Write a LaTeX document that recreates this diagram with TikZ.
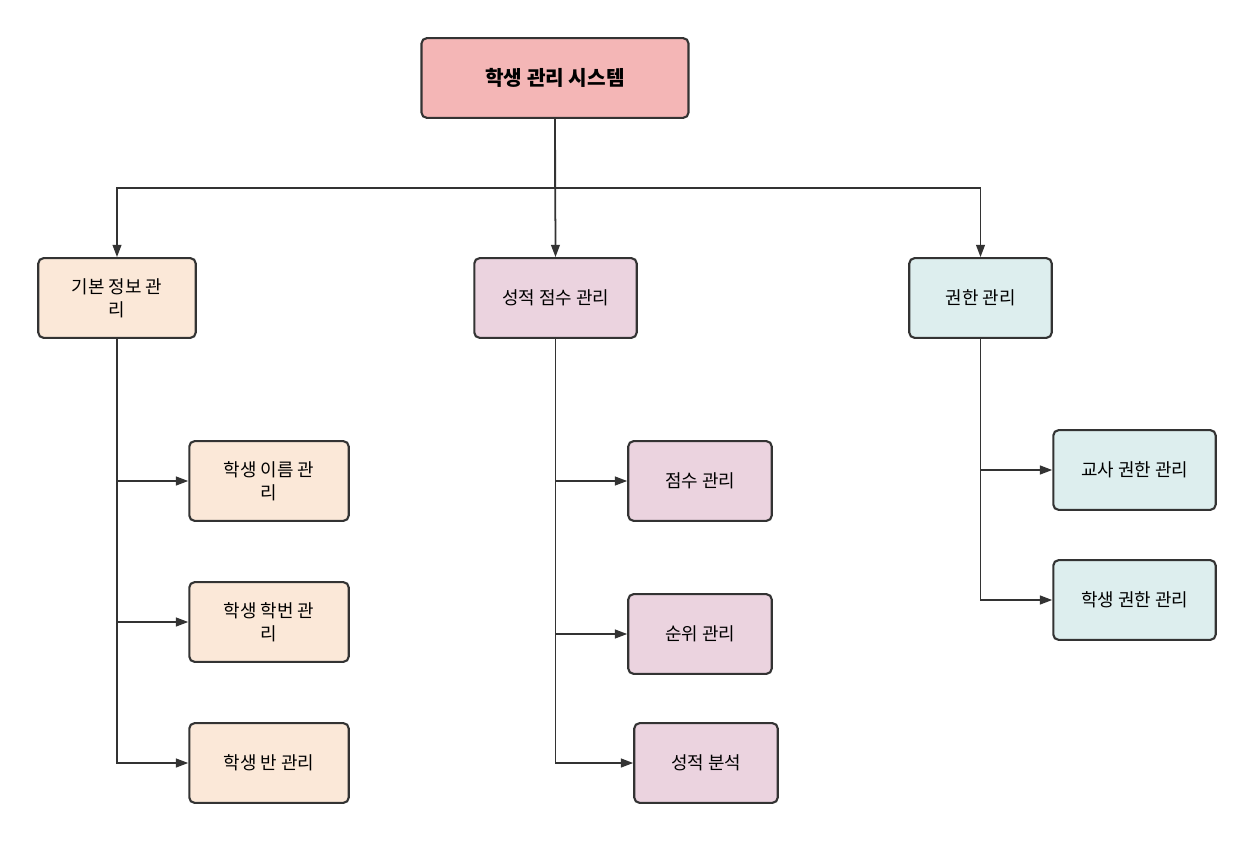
\documentclass[tikz,border=0pt]{standalone}
\usepackage{fontspec}
\setmainfont{Noto Sans CJK KR}
\usetikzlibrary{arrows.meta}
\definecolor{topc}{HTML}{F4B6B6}
\definecolor{lc}{HTML}{FBE8D8}
\definecolor{mc}{HTML}{EBD3DF}
\definecolor{rc}{HTML}{DDEEEE}
\definecolor{ln}{HTML}{333333}
\begin{document}
\begin{tikzpicture}[x=0.02cm,y=-0.02cm,
 box/.style={draw=ln,line width=1.2pt,rounded corners=3pt,align=center,font=\fontsize{10.2}{13}\selectfont,inner sep=0pt},
 conn/.style={draw=ln,line width=1pt,-{Triangle[length=7pt,width=5pt]}}]
\useasboundingbox (0,0) rectangle (1253,841);
\node[box,fill=topc,minimum width=268*0.567pt,minimum height=80*0.567pt,font=\bfseries\fontsize{11.5}{14}\selectfont] (top) at (555,78) {학생 관리 시스템};
\node[box,fill=lc,minimum width=158*0.567pt,minimum height=80*0.567pt] (a) at (117,298) {기본 정보 관\\리};
\node[box,fill=mc,minimum width=163*0.567pt,minimum height=80*0.567pt] (b) at (555.5,298) {성적 점수 관리};
\node[box,fill=rc,minimum width=143*0.567pt,minimum height=80*0.567pt] (c) at (980.5,298) {권한 관리};
\node[box,fill=lc,minimum width=160*0.567pt,minimum height=80*0.567pt] (a1) at (269,481) {학생 이름 관\\리};
\node[box,fill=lc,minimum width=160*0.567pt,minimum height=80*0.567pt] (a2) at (269,622) {학생 학번 관\\리};
\node[box,fill=lc,minimum width=160*0.567pt,minimum height=80*0.567pt] (a3) at (269,763) {학생 반 관리};
\node[box,fill=mc,minimum width=144*0.567pt,minimum height=80*0.567pt] (b1) at (700,481) {점수 관리};
\node[box,fill=mc,minimum width=144*0.567pt,minimum height=80*0.567pt] (b2) at (700,634) {순위 관리};
\node[box,fill=mc,minimum width=144*0.567pt,minimum height=80*0.567pt] (b3) at (706,763) {성적 분석};
\node[box,fill=rc,minimum width=163*0.567pt,minimum height=80*0.567pt] (c1) at (1134.5,470) {교사 권한 관리};
\node[box,fill=rc,minimum width=163*0.567pt,minimum height=80*0.567pt] (c2) at (1134.5,600) {학생 권한 관리};
\draw[conn] (top.south) -- (b.north);
\draw[conn] (top.south) |- (117,188) -- (a.north);
\draw[conn] (top.south) |- (980.5,188) -- (c.north);
\foreach \p/\k in {a/a1,a/a2,a/a3,b/b1,b/b2,b/b3,c/c1,c/c2}
  \draw[conn] (\p.south) |- (\k.west);
\end{tikzpicture}
\end{document}
